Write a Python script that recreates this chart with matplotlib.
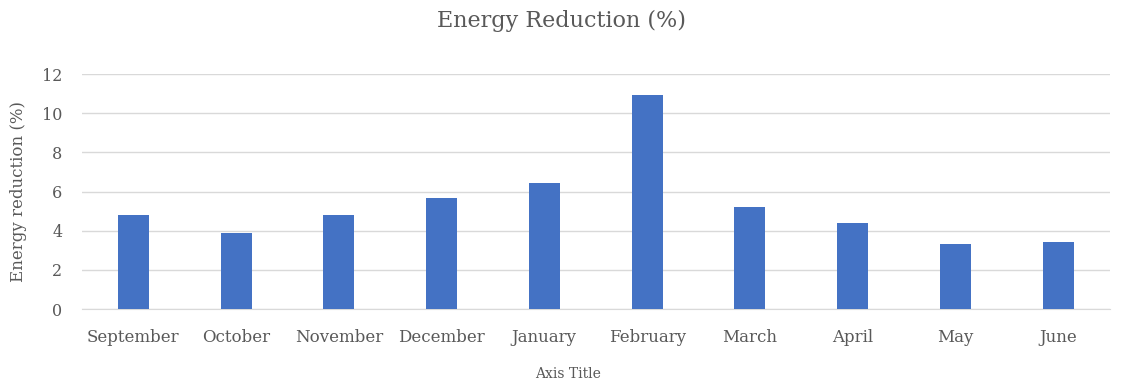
import matplotlib
matplotlib.use("Agg")
import matplotlib.pyplot as plt
import numpy as np

months = ["September", "October", "November", "December", "January",
          "February", "March", "April", "May", "June"]
reduction = [4.8, 3.88, 4.8, 5.66, 6.45, 10.92, 5.2, 4.4, 3.32, 3.44]
y_ticks = [0, 2, 4, 6, 8, 10, 12]

TEXT = "#595959"
BAR = "#4472C4"
GRID = "#d9d9d9"

plt.rcParams["font.family"] = ["DejaVu Serif"]

fig = plt.figure(figsize=(11.23, 3.84), dpi=100)
ax = fig.add_axes([0.073, 0.195, 0.915, 0.612])

x = np.arange(len(months))
ax.bar(x, reduction, width=0.3, color=BAR, zorder=3)

ax.set_xlim(-0.5, len(months) - 0.5)
ax.set_ylim(0, 12)
ax.set_yticks(y_ticks)
ax.set_xticks(x)
ax.set_xticklabels(months, fontsize=12)

ax.grid(axis="y", color=GRID, linewidth=1.0, zorder=0)
for side in ["top", "right", "left"]:
    ax.spines[side].set_visible(False)
ax.spines["bottom"].set_color(GRID)
ax.tick_params(length=0, colors=TEXT)
ax.tick_params(axis="x", pad=14)
ax.tick_params(axis="y", pad=14, labelsize=11.5)

ax.set_ylabel("Energy reduction (%)", color=TEXT, fontsize=12)
ax.yaxis.set_label_coords(-0.0535, 0.5)
ax.set_xlabel("Axis Title", color=TEXT, fontsize=10)
ax.xaxis.set_label_coords(0.473, -0.245)
fig.suptitle("Energy Reduction (%)", color=TEXT, fontsize=16, y=0.975)

fig.savefig("out.png", dpi=100)
